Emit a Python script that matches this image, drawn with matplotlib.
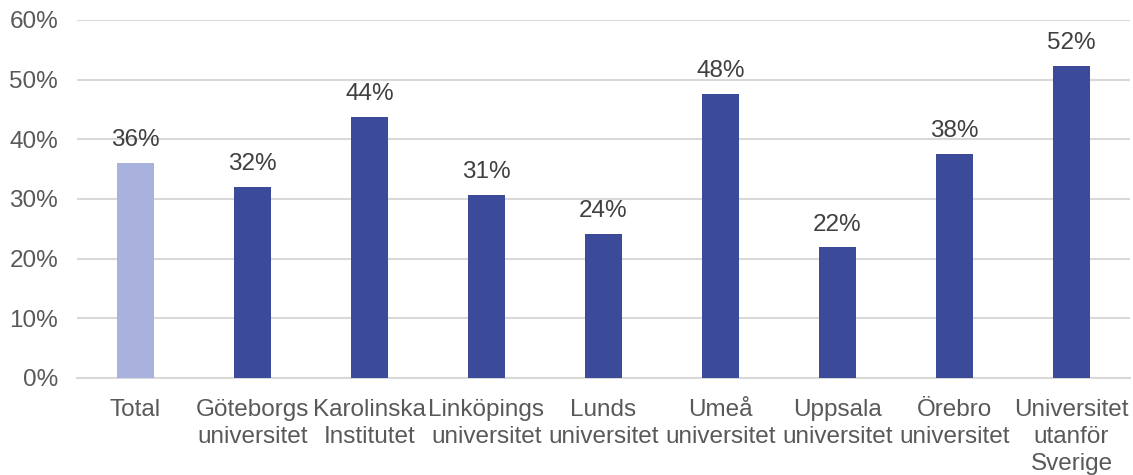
import matplotlib
matplotlib.use("Agg")
import matplotlib.pyplot as plt

categories = ["Total", "Göteborgs\nuniversitet", "Karolinska\nInstitutet", "Linköpings\nuniversitet",
              "Lunds\nuniversitet", "Umeå\nuniversitet", "Uppsala\nuniversitet", "Örebro\nuniversitet",
              "Universitet\nutanför\nSverige"]
values = [0.36, 0.32, 0.437, 0.307, 0.242, 0.476, 0.219, 0.375, 0.523]
labels = ["36%", "32%", "44%", "31%", "24%", "48%", "22%", "38%", "52%"]
yticks = [0, 0.1, 0.2, 0.3, 0.4, 0.5, 0.6]
ytick_labels = ["0%", "10%", "20%", "30%", "40%", "50%", "60%"]

plt.rcParams['font.family'] = ['Liberation Sans', 'DejaVu Sans']
fs = 17.5

fig = plt.figure(figsize=(11.33, 4.75), dpi=100)
ax = fig.add_axes([77/1133, 1 - 378/475, (1130-77)/1133, (378-20)/475])

colors = ["#A9B2DD"] + ["#3C4A9A"] * (len(values) - 1)
x = list(range(len(values)))
bars = ax.bar(x, values, width=0.32, color=colors, zorder=3)
for xi, v, lab in zip(x, values, labels):
    ax.annotate(lab, (xi, v), xytext=(0, 8.5), textcoords="offset points",
                ha="center", va="bottom", fontsize=fs, color="#404040")

ax.set_xlim(-0.5, len(values) - 0.5)
ax.set_ylim(0, 0.6)
ax.set_yticks(yticks)
ax.set_yticklabels(ytick_labels)
ax.set_xticks(x)
ax.set_xticklabels(categories, linespacing=1.3)
ax.tick_params(axis="both", length=0, labelsize=fs, colors="#595959")
ax.tick_params(axis="x", pad=15)
ax.tick_params(axis="y", pad=13.5)
ax.grid(axis="y", color="#D9D9D9", linewidth=1.5, zorder=0)
for s in ["top", "right", "left"]:
    ax.spines[s].set_visible(False)
ax.spines["bottom"].set_color("#D9D9D9")
ax.spines["bottom"].set_linewidth(1.5)

fig.savefig("out.png", dpi=100)
